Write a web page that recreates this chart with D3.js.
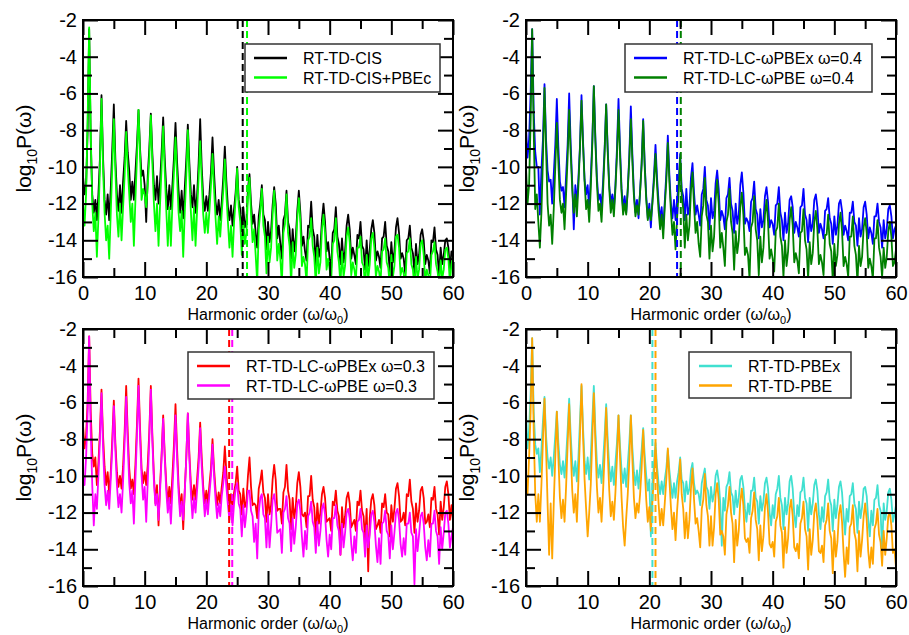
<!DOCTYPE html>
<html><head><meta charset="utf-8">
<script src="https://cdn.jsdelivr.net/npm/d3@7"></script>
<style>
body{margin:0;background:#fff}
svg{display:block}
text{font-family:"Liberation Sans",Arial,Helvetica,sans-serif}
</style>
</head><body>
<svg id="chart" width="909" height="635"></svg>
<script>
// harmonic-order sampling step (values below are read at 0, 0.25, 0.5, ... 60)
const orderStep = 0.25;

const xMajorTicks = [0, 10, 20, 30, 40, 50, 60];
const xMinorTicks = [5, 15, 25, 35, 45, 55];
const yMajorTicks = [-16, -14, -12, -10, -8, -6, -4, -2];
const yMinorTicks = [-15, -13, -11, -9, -7, -5, -3];

// Panel 1
const cisValues = [
-10.5,-11.5,-11.0,-8.0, -2.5,-8.5,-11.5,-12.5, -11.8,-12.9,-11.5,-9.5, -6.1,-9.5,-11.8,-12.6,
-11.5,-12.9,-11.2,-9.0, -6.6,-9.6,-11.5,-12.4, -11.0,-12.5,-10.8,-9.5, -7.5,-9.2,-10.2,-11.8,
-10.8,-11.8,-10.3,-8.8, -6.9,-9.0,-10.5,-10.2, -11.0,-13.0,-10.5,-9.0, -7.1,-9.3,-11.0,-11.8,
-10.5,-12.0,-10.8,-9.2, -7.3,-9.5,-11.2,-12.3, -11.0,-12.3,-11.0,-9.5, -7.6,-9.7,-11.3,-12.5,
-11.3,-12.8,-11.2,-9.6, -7.7,-9.8,-11.5,-12.2, -11.0,-12.5,-11.6,-9.8, -7.4,-10.0,-11.7,-12.4,
-11.6,-12.4,-11.5,-10.3, -8.4,-10.3,-11.9,-12.6, -11.8,-12.9,-11.9,-10.6, -8.9,-10.8,-12.2,-12.9,
-12.1,-13.2,-12.3,-11.4,
-10.0,-11.8,-12.3,-13.5, -12.2,-13.3,-12.9,-11.2, -10.4,-12.0,-13.1,-12.6, -13.6,-14.4,-12.7,-12.0,
-11.0,-12.6,-12.9,-14.5, -13.0,-14.1,-13.5,-12.1, -11.1,-12.0,-13.9,-13.2, -14.2,-15.0,-12.9,-12.6,
-11.3,-13.0,-13.4,-15.0, -13.4,-14.6,-13.9,-12.4, -11.3,-12.5,-14.3,-13.8, -14.6,-15.1,-13.2,-13.3,
-11.9,-13.4,-13.8,-15.4, -13.7,-14.9,-14.4,-12.9, -12.0,-13.0,-14.6,-14.1, -15.0,-15.5,-13.6,-13.4,
-12.2,-13.8,-14.2,-15.3, -13.9,-15.2,-14.6,-13.2, -12.6,-13.4,-15.0,-14.4, -14.8,-15.3,-13.7,-13.9,
-13.0,-14.3,-14.5,-15.6, -14.0,-15.4,-14.5,-13.4, -12.9,-13.6,-15.1,-14.6, -14.9,-15.5,-13.9,-13.8,
-13.0,-14.3,-14.6,-15.7, -14.1,-15.2,-14.6,-13.3, -12.8,-13.6,-15.0,-14.7, -15.0,-15.8,-14.0,-13.9,
-13.2,-14.4,-14.7,-15.8, -14.2,-15.3,-14.8,-13.7, -13.4,-14.0,-15.3,-14.8, -15.1,-15.8,-14.0,-14.1,
-13.3,-14.5,-14.8,-15.9, -14.4,-15.3,-14.8,-14.0, -13.9,-14.4,-15.6,-14.6,
-14.8];
const cisPbecValues = [
-12.0,-13.2,-11.5,-7.5, -2.4,-8.0,-12.0,-13.5, -12.5,-14.9,-12.8,-10.0, -6.3,-10.0,-12.5,-14.0,
-13.2,-15.0,-12.5,-10.0, -7.4,-10.2,-12.6,-13.8, -12.0,-14.0,-12.2,-10.5, -8.1,-10.0,-11.5,-13.0,
-12.0,-14.3,-11.8,-9.5, -6.9,-9.3,-11.8,-11.2, -11.5,-12.2,-11.0,-9.5, -7.2,-9.8,-12.0,-13.5,
-12.0,-14.3,-12.0,-10.0, -7.8,-10.2,-12.3,-14.3, -12.2,-14.3,-12.0,-10.3, -8.4,-10.5,-12.5,-13.5,
-12.4,-14.9,-12.5,-10.5, -8.0,-10.5,-12.5,-14.0, -12.2,-14.3,-12.4,-10.6, -8.6,-10.7,-12.6,-13.6,
-12.5,-13.6,-12.4,-11.0, -9.3,-11.2,-12.8,-14.2, -12.7,-13.8,-12.5,-11.3, -9.6,-11.5,-13.0,-14.4,
-13.2,-14.9,-13.0,-11.8,
-10.1,-12.2,-13.0,-14.8, -13.0,-14.2,-13.6,-11.6, -10.6,-12.6,-14.1,-13.4, -14.8,-16.3,-13.4,-12.4,
-11.2,-13.2,-13.8,-15.8, -13.8,-15.2,-14.4,-12.6, -11.3,-12.7,-15.1,-14.2, -15.0,-16.4,-13.6,-13.1,
-11.5,-13.6,-14.3,-16.4, -14.1,-15.5,-14.8,-12.8, -11.7,-13.0,-15.4,-14.9, -15.3,-16.3,-14.0,-13.8,
-12.8,-14.3,-14.9,-16.4, -14.4,-15.8,-15.2,-13.4, -12.6,-13.6,-15.6,-15.0, -15.6,-16.2,-14.2,-14.0,
-12.8,-14.6,-15.2,-16.4, -14.6,-16.0,-15.4,-13.8, -13.3,-14.1,-15.9,-15.2, -15.6,-16.2,-14.4,-14.4,
-13.8,-15.2,-15.4,-16.6, -14.8,-16.1,-15.3,-13.9, -13.6,-14.4,-16.0,-15.4, -15.7,-16.3,-14.6,-14.5,
-13.9,-15.2,-15.5,-16.5, -14.8,-16.0,-15.4,-13.8, -13.7,-14.4,-15.9,-15.5, -15.8,-16.5,-14.7,-14.6,
-13.9,-15.3,-15.6,-16.6, -14.9,-16.1,-15.6,-14.2, -14.0,-14.8,-16.2,-15.6, -15.9,-16.5,-14.8,-14.6,
-14.1,-15.3,-15.7,-16.5, -15.1,-16.1,-15.6,-14.5, -14.4,-15.0,-16.3,-15.3,
-14.9];

// Panel 2
const lcPbex04Values = [
-7.8,-9.5,-8.5,-6.0, -2.5,-7.0,-9.2,-10.0, -10.0,-12.6,-10.2,-8.5, -5.5,-8.5,-10.2,-10.8,
-10.7,-12.0,-10.4,-8.8, -6.3,-8.9,-10.8,-11.3, -11.1,-12.2,-10.5,-8.8, -6.0,-8.8,-10.9,-13.4,
-11.0,-12.0,-10.6,-8.9, -6.1,-8.6,-10.7,-11.5, -11.0,-12.3,-10.6,-8.6, -5.6,-8.4,-10.6,-11.8,
-11.5,-12.2,-10.8,-9.0, -6.6,-9.0,-11.0,-12.0, -11.5,-12.3,-11.0,-9.0, -6.3,-9.0,-11.2,-12.3,
-11.6,-12.5,-11.2,-9.4, -6.7,-9.3,-11.4,-12.5, -11.8,-12.8,-11.3,-9.8, -7.4,-9.8,-11.6,-12.8,
-12.0,-13.3,-11.8,-10.5, -8.8,-10.6,-11.9,-12.9, -12.2,-13.4,-11.9,-10.4, -8.3,-10.4,-12.0,-12.8,
-11.8,-12.9,-11.8,-10.9,
-9.3,-11.2,-11.6,-12.9, -11.2,-12.6,-12.2,-10.6, -9.8,-11.4,-12.6,-12.1, -12.6,-13.2,-11.5,-11.2,
-10.0,-11.8,-12.1,-13.4, -11.7,-12.8,-12.4,-10.9, -10.2,-11.2,-12.9,-12.4, -12.7,-13.4,-11.7,-11.5,
-10.6,-12.0,-12.4,-13.6, -12.0,-13.1,-12.6,-11.0, -10.3,-11.4,-13.1,-12.8, -13.0,-13.5,-11.9,-11.7,
-10.8,-12.3,-12.6,-13.9, -12.3,-13.3,-12.9,-11.6, -11.1,-11.9,-13.3,-12.9, -13.1,-13.7,-12.1,-12.0,
-11.1,-12.5,-12.9,-14.0, -12.5,-13.6,-13.1,-11.8, -11.6,-12.2,-13.6,-13.0, -13.3,-13.8,-12.2,-12.1,
-11.2,-12.6,-12.9,-14.1, -12.6,-13.5,-13.1,-11.8, -11.5,-12.2,-13.6,-13.1, -13.4,-13.9,-12.4,-12.3,
-11.7,-12.8,-13.1,-14.2, -12.7,-13.7,-13.2,-12.0, -11.8,-12.4,-13.7,-13.2, -13.5,-14.0,-12.5,-12.5,
-11.9,-13.0,-13.2,-14.3, -12.8,-13.8,-13.4,-12.2, -11.9,-12.6,-13.9,-13.3, -13.6,-14.2,-12.7,-12.7,
-12.0,-13.0,-13.3,-14.4, -12.9,-13.9,-13.4,-12.3, -12.1,-12.7,-13.9,-13.4,
-13.2];
const lcPbe04Values = [
-10.0,-12.0,-11.0,-7.5, -2.5,-8.0,-12.3,-11.5, -13.0,-14.4,-12.5,-9.5, -5.7,-9.0,-12.0,-13.2,
-12.6,-14.2,-12.3,-10.0, -7.6,-9.8,-11.8,-12.5, -12.0,-13.4,-11.5,-9.5, -6.9,-9.3,-11.2,-12.5,
-11.5,-12.7,-11.0,-9.0, -6.4,-8.8,-10.8,-12.3, -11.8,-13.0,-11.2,-8.8, -5.6,-8.6,-10.9,-12.4,
-12.0,-13.0,-11.3,-9.2, -6.6,-9.2,-11.2,-12.5, -11.8,-12.7,-11.2,-9.4, -6.9,-9.4,-11.4,-12.6,
-12.0,-12.6,-11.3,-9.6, -7.4,-9.7,-11.6,-12.7, -12.1,-12.6,-11.4,-9.9, -7.5,-10.0,-11.8,-12.9,
-12.3,-12.9,-12.0,-10.8, -9.3,-11.0,-12.4,-13.4, -12.6,-13.9,-12.2,-10.8, -8.7,-10.8,-12.4,-13.7,
-13.0,-14.5,-12.8,-11.4,
-9.5,-11.6,-12.3,-14.4, -12.6,-14.0,-13.2,-11.3, -10.3,-12.1,-13.6,-13.0, -14.2,-14.9,-12.7,-12.1,
-10.6,-12.6,-13.0,-15.0, -13.2,-14.6,-13.8,-11.8, -10.7,-12.0,-14.4,-13.6, -14.4,-15.4,-13.0,-12.6,
-11.2,-13.0,-13.6,-15.6, -13.5,-14.7,-14.0,-12.2, -11.4,-12.6,-14.8,-14.4, -14.8,-16.1,-13.3,-13.0,
-11.6,-13.4,-14.0,-15.9, -13.8,-15.2,-14.4,-12.6, -11.8,-13.0,-15.0,-14.5, -15.0,-15.7,-13.5,-13.3,
-12.0,-13.8,-14.3,-16.0, -14.0,-15.4,-14.6,-12.9, -12.2,-13.2,-15.2,-14.7, -15.1,-15.8,-13.6,-13.5,
-12.3,-14.0,-14.5,-16.1, -14.1,-15.3,-14.7,-13.0, -12.4,-13.4,-15.3,-14.8, -15.2,-15.9,-13.7,-13.7,
-12.6,-14.2,-14.6,-16.2, -14.2,-15.4,-14.8,-13.1, -12.5,-13.5,-15.4,-14.9, -15.3,-16.0,-13.8,-13.8,
-12.7,-14.3,-14.8,-16.3, -14.3,-15.4,-14.9,-13.3, -12.8,-13.6,-15.5,-15.0, -15.4,-16.1,-13.9,-13.9,
-12.9,-14.4,-14.9,-16.0, -14.4,-15.5,-14.9,-13.5, -13.0,-13.8,-15.4,-15.2,
-14.5];

// Panel 3
const lcPbex03Values = [
-7.2,-8.5,-7.8,-6.0, -2.4,-6.5,-8.8,-9.5, -9.0,-10.5,-9.3,-7.5, -5.3,-7.8,-9.5,-10.5,
-9.8,-11.0,-9.8,-8.0, -5.9,-8.2,-9.8,-10.6, -10.0,-10.7,-9.5,-7.6, -5.1,-7.6,-9.6,-10.7,
-10.2,-11.0,-9.4,-7.2, -4.7,-7.4,-9.6,-10.4, -9.8,-10.5,-9.4,-7.6, -5.1,-7.8,-10.0,-11.5,
-10.5,-12.7,-10.5,-8.8, -6.7,-8.8,-10.4,-11.5, -10.6,-11.5,-10.0,-8.3, -6.1,-8.5,-10.5,-11.8,
-11.0,-12.9,-10.8,-9.0, -6.6,-8.8,-10.5,-11.3, -10.5,-11.3,-10.2,-9.0, -7.1,-9.0,-10.6,-11.5,
-10.8,-11.5,-10.5,-9.6, -8.0,-9.6,-10.8,-11.6, -10.9,-11.5,-10.6,-9.8, -8.4,-9.8,-11.0,-11.7,
-11.0,-11.8,-10.9,-10.4,
-9.5,-10.8,-11.0,-12.1, -10.7,-11.7,-11.4,-10.0, -9.0,-10.6,-11.6,-11.5, -11.6,-12.3,-10.7,-10.3,
-9.7,-10.9,-11.2,-12.5, -11.0,-12.1,-11.6,-10.2, -9.4,-10.2,-11.9,-11.8, -11.8,-12.6,-10.9,-10.6,
-9.4,-10.8,-11.3,-12.9, -11.2,-12.3,-11.7,-10.4, -9.8,-10.6,-12.1,-12.2, -12.0,-12.8,-11.1,-11.1,
-10.0,-11.3,-11.7,-13.3, -11.5,-12.6,-12.0,-11.0, -10.6,-11.2,-12.5,-12.4, -12.3,-13.0,-11.4,-11.6,
-10.8,-11.9,-12.2,-14.3, -11.7,-12.8,-12.2,-11.2, -10.9,-11.5,-12.8,-12.6, -12.4,-13.0,-11.4,-11.6,
-10.8,-11.9,-12.2,-13.5, -11.8,-15.2,-12.3,-11.3, -11.0,-11.6,-12.9,-12.7, -12.4,-13.1,-11.5,-11.7,
-11.0,-12.0,-12.1,-13.3, -11.6,-12.5,-11.8,-10.7, -10.4,-11.1,-12.5,-12.4, -12.0,-12.7,-11.0,-11.1,
-10.2,-11.4,-11.8,-13.1, -11.5,-12.5,-11.9,-10.8, -10.6,-11.2,-12.6,-12.5, -12.1,-12.8,-11.2,-11.3,
-10.6,-11.8,-12.1,-13.2, -11.4,-12.4,-11.7,-10.6, -10.3,-11.0,-12.4,-11.6,
-12.5];
const lcPbe03Values = [
-10.0,-10.5,-9.0,-6.5, -2.4,-7.5,-10.5,-12.7, -11.0,-11.8,-10.0,-8.0, -5.5,-8.5,-10.5,-11.6,
-10.8,-11.8,-10.2,-8.5, -6.2,-8.6,-10.5,-11.7, -11.0,-12.0,-10.3,-8.2, -5.7,-8.2,-10.4,-11.5,
-10.8,-12.6,-10.2,-7.8, -5.1,-7.9,-10.0,-11.3, -10.6,-12.5,-10.3,-8.0, -5.3,-8.1,-10.3,-11.6,
-11.0,-12.4,-10.8,-9.0, -6.9,-9.0,-10.8,-12.0, -11.2,-12.6,-10.8,-9.0, -6.7,-9.0,-10.9,-12.2,
-11.4,-12.4,-10.9,-9.0, -6.6,-9.0,-11.0,-12.3, -11.2,-12.0,-10.8,-9.5, -7.4,-9.5,-11.0,-12.2,
-11.3,-12.1,-11.0,-10.0, -8.3,-10.0,-11.3,-12.3, -11.5,-12.2,-11.1,-10.4, -9.5,-10.6,-11.6,-12.4,
-11.6,-12.7,-11.5,-10.7,
-10.4,-11.5,-11.8,-13.3, -11.6,-12.8,-12.0,-10.8, -10.8,-11.9,-12.2,-13.6, -12.6,-14.5,-12.0,-11.2,
-11.0,-12.1,-12.3,-13.9, -12.1,-13.9,-12.7,-11.3, -11.0,-11.7,-13.1,-13.0, -12.9,-14.2,-12.0,-11.8,
-11.1,-12.3,-12.6,-14.1, -12.3,-13.7,-12.8,-11.5, -11.3,-11.9,-13.3,-14.4, -13.0,-14.0,-12.2,-12.0,
-11.4,-12.5,-12.8,-14.2, -12.5,-13.8,-13.0,-11.8, -11.5,-12.1,-13.5,-14.4, -13.2,-14.0,-12.3,-12.3,
-11.6,-12.7,-13.0,-14.3, -12.6,-13.9,-13.1,-12.0, -11.8,-12.3,-13.7,-14.6, -13.3,-14.2,-12.5,-12.4,
-11.8,-12.9,-13.1,-14.4, -12.7,-13.9,-13.2,-12.1, -11.9,-12.5,-13.8,-14.7, -13.4,-14.8,-12.6,-12.5,
-11.9,-13.0,-13.2,-14.5, -12.7,-14.0,-13.1,-12.0, -11.8,-12.4,-13.7,-14.4, -13.4,-14.3,-12.6,-12.6,
-12.0,-13.1,-13.3,-15.9, -12.9,-14.1,-13.2,-12.2, -12.0,-12.6,-13.9,-14.6, -13.5,-14.4,-12.6,-12.6,
-11.9,-13.0,-13.3,-14.8, -12.8,-14.0,-13.1,-12.0, -11.9,-12.6,-13.9,-13.3,
-12.8];

// Panel 4
const pbexValues = [
-6.5,-8.5,-7.5,-5.5, -2.5,-6.5,-8.3,-8.8, -8.5,-9.8,-8.6,-7.0, -5.7,-7.8,-9.0,-9.6,
-9.0,-10.0,-9.0,-7.8, -6.5,-8.2,-9.4,-9.9, -9.2,-10.1,-9.0,-7.5, -5.8,-7.8,-9.3,-10.0,
-9.2,-10.3,-9.0,-7.0, -5.1,-7.4,-9.2,-9.9, -9.0,-10.2,-9.0,-7.0, -5.1,-7.5,-9.3,-10.1,
-9.4,-10.4,-9.2,-7.8, -6.1,-8.0,-9.5,-10.3, -9.5,-10.5,-9.3,-8.2, -6.7,-8.4,-9.7,-10.4,
-9.6,-10.6,-9.4,-8.2, -6.7,-8.5,-9.8,-10.5, -9.7,-10.7,-9.6,-8.6, -7.4,-8.9,-10.0,-10.8,
-10.2,-13.3,-10.4,-9.4, -8.2,-9.5,-10.4,-11.0, -10.3,-11.0,-10.2,-9.6, -8.6,-9.7,-10.5,-11.2,
-10.4,-11.2,-10.3,-9.8,
-9.0,-10.2,-10.4,-11.4, -10.3,-11.0,-10.7,-9.7, -9.3,-10.4,-11.0,-10.8, -11.0,-11.6,-10.4,-10.0,
-9.6,-10.6,-10.8,-11.8, -10.6,-11.4,-11.0,-10.0, -9.7,-10.3,-11.5,-13.8, -11.2,-11.9,-10.6,-10.4,
-9.8,-10.9,-11.1,-12.1, -10.8,-11.7,-11.2,-10.2, -10.0,-10.6,-11.8,-12.5, -11.5,-12.1,-10.8,-10.8,
-10.1,-11.2,-11.4,-12.6, -11.1,-11.9,-11.4,-10.4, -10.1,-10.7,-12.0,-12.7, -11.6,-12.3,-11.0,-10.7,
-10.0,-11.2,-11.6,-12.9, -11.2,-12.1,-11.5,-10.3, -10.0,-10.7,-12.1,-12.8, -11.6,-12.2,-10.9,-10.8,
-10.1,-11.2,-11.5,-13.0, -11.2,-12.1,-11.5,-10.5, -10.2,-10.8,-12.1,-12.9, -11.7,-12.5,-11.1,-10.9,
-10.2,-11.3,-11.6,-13.0, -11.3,-12.3,-11.6,-10.6, -10.3,-10.9,-12.2,-13.2, -11.8,-12.5,-11.1,-11.0,
-10.4,-11.5,-11.8,-13.1, -11.4,-12.3,-11.7,-10.7, -10.6,-11.1,-12.4,-13.3, -11.9,-12.7,-11.3,-11.2,
-10.5,-11.6,-11.9,-14.2, -11.5,-12.4,-11.9,-10.9, -10.7,-11.3,-12.5,-12.1,
-11.6];
const pbeValues = [
-10.0,-11.0,-9.0,-6.5, -2.5,-7.5,-11.0,-12.5, -11.0,-12.5,-10.5,-8.0, -5.8,-8.5,-11.5,-14.3,
-11.5,-14.5,-11.5,-9.0, -6.5,-9.0,-11.2,-12.3, -11.3,-12.5,-10.6,-8.3, -6.1,-8.5,-10.8,-12.0,
-11.0,-12.5,-10.3,-7.8, -5.0,-7.8,-10.2,-11.8, -13.3,-12.0,-10.5,-8.0, -5.5,-8.2,-10.6,-12.0,
-11.2,-12.5,-10.8,-8.8, -6.3,-8.7,-10.8,-12.2, -11.4,-12.4,-10.9,-9.0, -6.7,-9.0,-11.2,-12.8,
-13.8,-12.3,-11.0,-9.2, -6.7,-9.1,-11.2,-12.3, -11.5,-12.0,-11.0,-9.6, -7.5,-9.5,-11.3,-12.5,
-11.7,-13.0,-11.4,-10.0, -8.4,-10.0,-11.5,-12.7, -11.8,-12.7,-11.5,-10.2, -8.5,-10.2,-11.7,-12.9,
-12.0,-13.5,-11.9,-10.7,
-9.1,-11.0,-11.8,-13.4, -12.0,-13.4,-12.4,-10.7, -9.6,-11.3,-12.6,-12.3, -13.0,-13.9,-11.8,-11.3,
-9.9,-11.6,-12.2,-13.8, -12.2,-13.8,-12.8,-11.0, -10.4,-11.3,-13.2,-13.0, -13.3,-14.3,-12.1,-11.6,
-10.6,-12.0,-12.6,-14.7, -12.4,-13.8,-13.0,-11.4, -10.7,-11.6,-13.4,-13.6, -13.4,-14.2,-12.3,-11.9,
-10.9,-12.4,-12.9,-14.6, -12.7,-14.1,-13.3,-11.7, -11.0,-12.0,-13.7,-13.9, -13.6,-14.4,-12.5,-12.2,
-11.2,-12.7,-13.1,-15.0, -12.8,-14.2,-13.4,-11.8, -11.3,-12.2,-13.9,-14.1, -13.7,-14.5,-12.6,-12.3,
-11.4,-12.9,-13.3,-15.1, -12.9,-14.3,-13.5,-12.0, -11.5,-12.4,-14.1,-14.2, -13.8,-14.7,-12.7,-12.4,
-11.5,-13.0,-13.4,-15.3, -13.0,-14.4,-13.6,-12.1, -11.6,-12.5,-14.2,-15.5, -13.9,-14.8,-12.8,-12.6,
-11.6,-13.1,-13.5,-15.2, -13.0,-14.4,-13.5,-12.2, -11.5,-12.4,-14.1,-15.0, -13.9,-14.8,-12.9,-12.6,
-11.8,-13.2,-13.6,-14.9, -13.0,-14.3,-13.4,-12.2, -12.0,-12.7,-14.2,-14.0,
-15.0];

const panelLabels = [
  ["RT-TD-CIS", "RT-TD-CIS+PBEc"],
  ["RT-TD-LC-ωPBEx ω=0.4", "RT-TD-LC-ωPBE ω=0.4"],
  ["RT-TD-LC-ωPBEx ω=0.3", "RT-TD-LC-ωPBE ω=0.3"],
  ["RT-TD-PBEx", "RT-TD-PBE"]
];
const panelValues = [
  [cisValues, cisPbecValues],
  [lcPbex04Values, lcPbe04Values],
  [lcPbex03Values, lcPbe03Values],
  [pbexValues, pbeValues]
];
const panelCutoffs = [[25.9, 26.6], [24.5, 25.1], [23.7, 24.2], [20.5, 21.0]];
const panelColors = [
  ["#000000", "#00ff00"],
  ["#0000ff", "#008000"],
  ["#ff0000", "#ff00ff"],
  ["#40e0d0", "#ffa500"]
];

// layout
const W = 370, H = 257;
const layout = [
  {left: 83, top: 20, legend: {x: 162, y: 24, w: 195, h: 48, lx: 171, tx: 220}},
  {left: 526, top: 20, legend: {x: 99, y: 24, w: 247, h: 48, lx: 108, tx: 157}},
  {left: 83, top: 329, legend: {x: 105, y: 23, w: 246, h: 47, lx: 114, tx: 163}},
  {left: 526, top: 329, legend: {x: 163, y: 23, w: 162, h: 46, lx: 173, tx: 222}}
];

const svg = d3.select("#chart");
const defs = svg.append("defs");

layout.forEach((L, p) => {
  const x = d3.scaleLinear().domain([0, 60]).range([L.left, L.left + W]);
  const y = d3.scaleLinear().domain([-16, -2]).range([L.top + H, L.top]);
  const clipId = "clip" + p;
  defs.append("clipPath").attr("id", clipId).append("rect")
    .attr("x", L.left).attr("y", L.top).attr("width", W).attr("height", H);

  const g = svg.append("g");
  const plot = g.append("g").attr("clip-path", `url(#${clipId})`);
  const line = d3.line().x((d, i) => x(i * orderStep)).y(d => y(d));

  panelValues[p].forEach((vals, s) => {
    plot.append("path").datum(vals)
      .attr("d", line)
      .attr("fill", "none")
      .attr("stroke", panelColors[p][s])
      .attr("stroke-width", 1.8)
      .attr("stroke-linejoin", "round");
  });

  panelCutoffs[p].forEach((c, s) => {
    plot.append("line")
      .attr("x1", x(c)).attr("x2", x(c))
      .attr("y1", L.top).attr("y2", L.top + H)
      .attr("stroke", panelColors[p][s])
      .attr("stroke-width", 2)
      .attr("stroke-dasharray", "7,4");
  });

  const style = sel => {
    sel.select(".domain").remove();
    sel.selectAll(".tick line").attr("stroke", "#000").attr("stroke-width", 2);
    sel.selectAll(".tick text").attr("fill", "#000")
      .style("font-family", '"Liberation Sans",Arial,sans-serif')
      .style("font-size", "20px");
  };
  const fmt = d => String(d);
  g.append("g").attr("transform", `translate(0,${L.top + H})`)
    .call(d3.axisBottom(x).tickValues(xMajorTicks).tickSize(-15).tickPadding(9).tickFormat(fmt)).call(style);
  g.append("g").attr("transform", `translate(0,${L.top + H})`)
    .call(d3.axisBottom(x).tickValues(xMinorTicks).tickSize(-9).tickFormat("")).call(style);
  g.append("g").attr("transform", `translate(0,${L.top})`)
    .call(d3.axisTop(x).tickValues(xMajorTicks).tickSize(-15).tickFormat("")).call(style);
  g.append("g").attr("transform", `translate(0,${L.top})`)
    .call(d3.axisTop(x).tickValues(xMinorTicks).tickSize(-9).tickFormat("")).call(style);
  g.append("g").attr("transform", `translate(${L.left},0)`)
    .call(d3.axisLeft(y).tickValues(yMajorTicks).tickSize(-15).tickPadding(6).tickFormat(fmt)).call(style);
  g.append("g").attr("transform", `translate(${L.left},0)`)
    .call(d3.axisLeft(y).tickValues(yMinorTicks).tickSize(-9).tickFormat("")).call(style);
  g.append("g").attr("transform", `translate(${L.left + W},0)`)
    .call(d3.axisRight(y).tickValues(yMajorTicks).tickSize(-15).tickFormat("")).call(style);
  g.append("g").attr("transform", `translate(${L.left + W},0)`)
    .call(d3.axisRight(y).tickValues(yMinorTicks).tickSize(-9).tickFormat("")).call(style);

  g.append("rect").attr("x", L.left).attr("y", L.top).attr("width", W).attr("height", H)
    .attr("fill", "none").attr("stroke", "#000").attr("stroke-width", 2);

  const xt = g.append("text")
    .attr("x", L.left + W / 2).attr("y", L.top + H + 43)
    .attr("text-anchor", "middle").style("font-size", "16px").attr("fill", "#000");
  xt.append("tspan").text("Harmonic order (ω/ω");
  xt.append("tspan").attr("dy", 4).style("font-size", "11px").text("0");
  xt.append("tspan").attr("dy", -4).text(")");

  const yt = g.append("text")
    .attr("transform", `translate(${L.left - 52},${L.top + H / 2}) rotate(-90)`)
    .attr("text-anchor", "middle").style("font-size", "21px").attr("fill", "#000");
  yt.append("tspan").text("log");
  yt.append("tspan").attr("dy", 6).style("font-size", "14px").text("10");
  yt.append("tspan").attr("dy", -6).text("P(ω)");

  const lg = L.legend;
  const leg = g.append("g").attr("transform", `translate(${L.left},${L.top})`);
  leg.append("rect").attr("x", lg.x).attr("y", lg.y).attr("width", lg.w).attr("height", lg.h)
    .attr("fill", "#fff").attr("stroke", "#333").attr("stroke-width", 1.5);
  panelLabels[p].forEach((name, s) => {
    const ly = lg.y + 14 + s * 19.5;
    leg.append("line").attr("x1", lg.lx).attr("x2", lg.lx + 33).attr("y1", ly).attr("y2", ly)
      .attr("stroke", panelColors[p][s]).attr("stroke-width", 2.5);
    leg.append("text").attr("x", lg.tx).attr("y", ly + 6)
      .style("font-size", "16px").attr("fill", "#000").text(name);
  });
});
</script>
</body></html>
